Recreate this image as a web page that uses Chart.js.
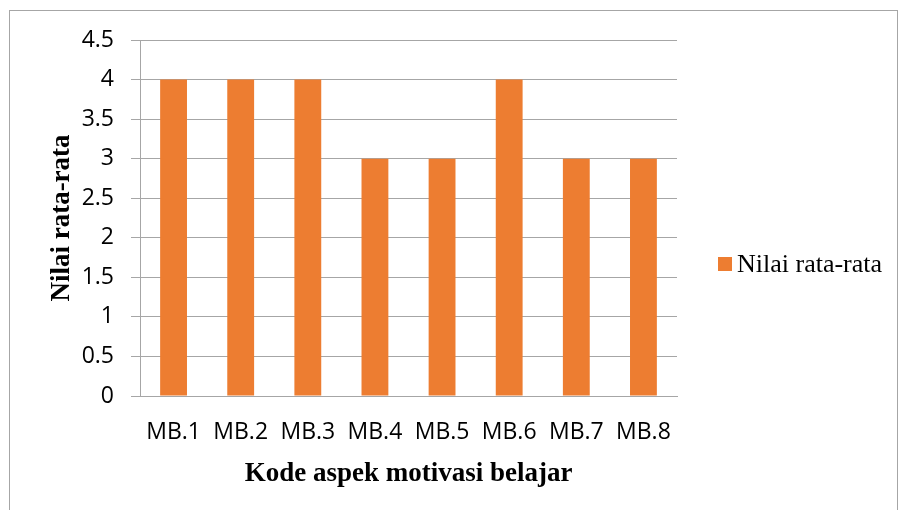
<!DOCTYPE html>
<html>
<head>
<meta charset="utf-8">
<script src="https://cdn.jsdelivr.net/npm/chart.js@4.4.0/dist/chart.umd.min.js"></script>
<style>
  html, body { margin: 0; padding: 0; background: #fff; }
  #wrap { position: relative; width: 899px; height: 510px; overflow: hidden; }
  #frame { position: absolute; left: 9px; top: 10px; width: 889px; height: 510px; border: 1px solid #A6A6A6; box-sizing: border-box; }
  canvas { position: absolute; left: 0; top: 0; }
</style>
</head>
<body>
<div id="wrap">
  <div id="frame"></div>
  <canvas id="avgChart" width="899" height="510"></canvas>
</div>
<script>
// Chart data
const categories = ['MB.1', 'MB.2', 'MB.3', 'MB.4', 'MB.5', 'MB.6', 'MB.7', 'MB.8'];
const avgValues = [4, 4, 4, 3, 3, 4, 3, 3];
const yTicks = [0, 0.5, 1, 1.5, 2, 2.5, 3, 3.5, 4, 4.5];
const seriesName = 'Nilai rata-rata';
const xTitle = 'Kode aspek motivasi belajar';
const yTitle = 'Nilai rata-rata';

const GRID = '#A6A6A6';
const BAR = '#ED7D31';

// Legend drawn at the right side, like the office chart
const sideLegend = {
    id: 'sideLegend',
    afterDraw: function(chart) {
        const ctx = chart.ctx;
        const ds = chart.data.datasets[0];
        const x = chart.chartArea.right + 41;
        const y = chart.height / 2 + 9;
        ctx.save();
        ctx.fillStyle = ds.backgroundColor;
        ctx.fillRect(x, y - 7, 14, 14);
        ctx.fillStyle = '#000';
        ctx.font = '26px "Liberation Serif"';
        ctx.textBaseline = 'middle';
        ctx.fillText(ds.label, x + 19, y + 1);
        ctx.restore();
    }
};

const ctx = document.getElementById('avgChart').getContext('2d');
new Chart(ctx, {
    type: 'bar',
    data: {
        labels: categories,
        datasets: [{
            label: seriesName,
            data: avgValues,
            backgroundColor: BAR,
            barPercentage: 0.4,
            categoryPercentage: 1.0
        }]
    },
    options: {
        responsive: false,
        animation: false,
        devicePixelRatio: 1,
        layout: {
            padding: { left: 40, top: 40, right: 222, bottom: 20 }
        },
        plugins: {
            legend: { display: false },
            tooltip: { enabled: false }
        },
        scales: {
            x: {
                grid: { display: false, drawTicks: false },
                border: { display: true, color: GRID, width: 1 },
                ticks: {
                    color: '#000',
                    font: { family: '"Open Sans"', size: 23 },
                    padding: 23,
                    maxRotation: 0,
                    autoSkip: false
                },
                title: {
                    display: true,
                    text: xTitle,
                    color: '#000',
                    font: { family: '"Liberation Serif"', size: 27, weight: 'bold' },
                    padding: { top: 0, bottom: 0 }
                },
                afterFit: function(scale) { scale.height = 94; }
            },
            y: {
                min: 0,
                max: 4.5,
                afterBuildTicks: function(scale) {
                    scale.ticks = yTicks.map(function(v) { return { value: v }; });
                },
                grid: { color: GRID, lineWidth: 1, tickLength: 9 },
                border: { display: true, color: GRID, width: 1 },
                ticks: {
                    color: '#000',
                    font: { family: '"Open Sans"', size: 23 },
                    padding: 17,
                    callback: function(value) { return String(value); }
                },
                title: {
                    display: true,
                    text: yTitle,
                    color: '#000',
                    font: { family: '"Liberation Serif"', size: 27, weight: 'bold' },
                    padding: { top: 6, bottom: 0 }
                },
                afterFit: function(scale) { scale.width = 100; }
            }
        }
    },
    plugins: [sideLegend]
});
</script>
</body>
</html>
